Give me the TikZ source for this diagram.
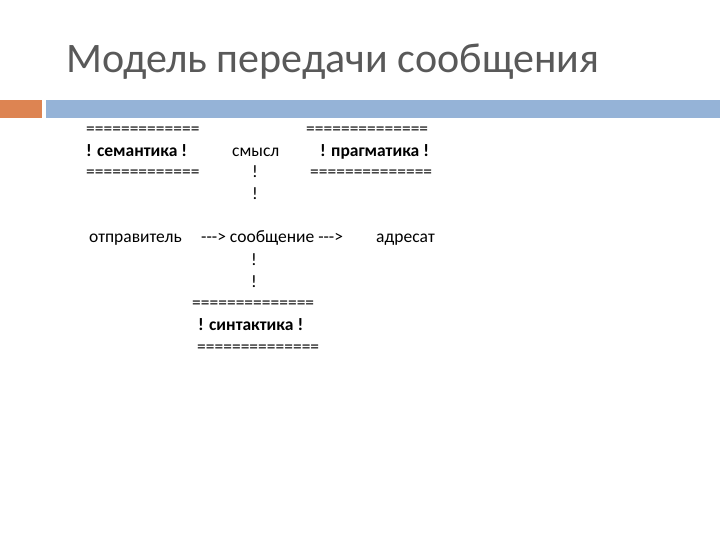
\documentclass[tikz,border=0pt]{standalone}
\usepackage{fontspec}
\setmainfont{Carlito}[Ligatures=NoCommon]
\definecolor{bar1}{RGB}{221,132,82}
\definecolor{bar2}{RGB}{149,179,215}
\begin{document}
\begin{tikzpicture}[x=1pt,y=-1pt,
  t/.style={anchor=base west,inner sep=0pt,font=\fontsize{17.5}{20}\selectfont,text=black},
  b/.style={t,font=\fontsize{17.5}{20}\selectfont\bfseries}]
\useasboundingbox (0,0) rectangle (720,540);
\fill[white] (0,0) rectangle (720,540);
\node[anchor=base west,inner sep=0pt,text=black!65,font=\fontsize{42}{48}\selectfont] (title) at (66,73) {Модель передачи сообщения};
\fill[bar1] (0,100) rectangle (42,118);
\fill[bar2] (46,100) rectangle (720,118);
\node[t] (a1) at (86,135) {=============};
\node[t] (a2) at (306,135) {==============};
\node[b] (sem) at (86,157) {! семантика !};
\node[t] (sm) at (232,157) {смысл};
\node[b] (pr) at (320,157) {! прагматика !};
\node[t] (a3) at (86,178) {=============};
\node[t] (e1) at (252,178) {!};
\node[t] (a4) at (310,178) {==============};
\node[t] (e2) at (252,200) {!};
\node[t] (otp) at (89,243) {отправитель};
\node[t] (msg) at (201,243) {-{}-{}-> сообщение -{}-{}->};
\node[t] (adr) at (376,243) {адресат};
\node[t] (e3) at (251,265) {!};
\node[t] (e4) at (251,287) {!};
\node[t] (a5) at (192,308) {==============};
\node[b] (sin) at (198,330) {! синтактика !};
\node[t] (a6) at (197,352) {==============};
\end{tikzpicture}
\end{document}
